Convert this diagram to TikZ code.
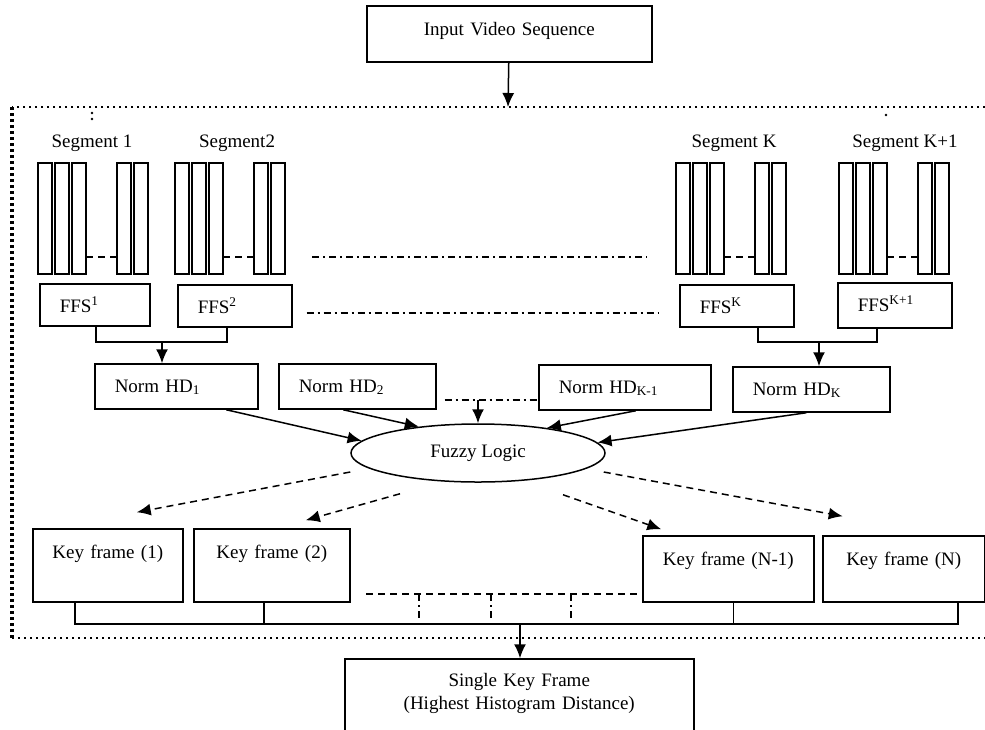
\documentclass[tikz,border=0pt]{standalone}
\usepackage{fontspec}
\setmainfont{Liberation Serif}
\usetikzlibrary{positioning,calc,arrows.meta,shapes.geometric}
\tikzset{lbox/.style={draw,line width=1.5pt,inner xsep=20pt,inner ysep=0pt,align=left,text height=28pt,anchor=base west},}
\tikzset{cbox/.style={draw,line width=1.5pt,inner sep=0pt,align=center,anchor=base west},}
\tikzset{arr/.style={-{Latex[length=14pt,width=12pt]},line width=1.5pt},}
\tikzset{darr/.style={arr,dash pattern=on 7pt off 5pt},}
\tikzset{dashdot/.style={line width=1.3pt,dash pattern=on 7pt off 4pt on 2pt off 4pt},}
\tikzset{dotline/.style={line width=2.5pt,dash pattern=on 2pt off 4pt},}
\tikzset{sqline/.style={line width=3.5pt,dash pattern=on 3pt off 3pt},}
\tikzset{bar/.style={line width=1.5pt},}

\begin{document}
\begin{tikzpicture}[x=1pt,y=-1pt,font=\fontsize{19}{23}\selectfont]
	\useasboundingbox (0,0) rectangle (985,729);
	\node[cbox, text width=285pt, text height=29pt, text depth=27pt] (input) at (366,35) {Input Video Sequence};
	\coordinate (top) at (508,107);
	\draw[arr] (input) -- (top);
	% dotted frame
	\draw[dotline] (985,107) -- (12,107);
	\draw[dotline] (12,638) -- (985,638);
	\draw[sqline] (12,107) -- (12,638);
	\fill (92,113) circle (1.4pt);
	\fill (92,119) circle (1.4pt);
	\fill (886,115) circle (1.4pt);

	\node[anchor=base] (seg1) at (92,147) {Segment 1};
	\node[anchor=base] (seg2) at (237,147) {Segment2};
	\node[anchor=base] (segk) at (734,147) {Segment K};
	\node[anchor=base] (segk1) at (905,147) {Segment K+1};
	% frames of each segment
	\foreach \s in {38,175,676,839}{
		\foreach \o in {0,17,34,79,96}
			\draw[bar] (\s+\o,163) rectangle ++(14,111);
		\draw[bar,dash pattern=on 7pt off 5pt] (\s+48,257) -- (\s+79,257);
	}
	\draw[dashdot] (312,257) -- (647,257);

	\node[lbox, text width=70pt, text depth=14pt] (ffs1) at (39,312) {FFS\textsuperscript{1}};
	\node[lbox, text width=74pt, text depth=14pt] (ffs2) at (177,313) {FFS\textsuperscript{2}};
	\node[lbox, text width=74pt, text depth=14pt] (ffsk) at (679,313) {FFS\textsuperscript{K}};
	\node[lbox, text width=74pt, text depth=17pt] (ffsk1) at (837,311) {FFS\textsuperscript{K+1}};
	\coordinate (m2) at (480,313);
	\draw[dashdot] ($(ffs2.east |- m2)+(14,0)$) -- ($(ffsk.west |- m2)+(-21,0)$);

	\node[lbox, text width=123pt, text depth=17pt] (hd1) at (94,392) {Norm HD\textsubscript{1}};
	\node[lbox, text width=117pt, text depth=17pt] (hd2) at (278,392) {Norm HD\textsubscript{2}};
	\node[lbox, text width=132pt, text depth=17pt] (hdk1) at (538,393) {Norm HD\textsubscript{K-1}};
	\node[lbox, text width=117pt, text depth=17pt] (hdk) at (732,395) {Norm HD\textsubscript{K}};

	\coordinate (j1) at (162,342);
	\coordinate (j2) at (819,342);
	\draw[line width=1.5pt] ([xshift=1pt]ffs1.south) |- (j1) -| ([xshift=-8pt]ffs2.south);
	\draw[line width=1.5pt] ([xshift=21pt]ffsk.south) |- (j2) -| ([xshift=-18pt]ffsk1.south);
	\draw[arr] (j1) -- (j1 |- hd1.north);
	\draw[arr] (j2) -- (j2 |- hdk.north);

	\node[ellipse, draw, line width=1.5pt, inner sep=0pt, minimum width=254pt, minimum height=58pt] (fuzzy) at (478,453) {Fuzzy Logic};
	\coordinate (m1) at (478,400);
	\draw[dashdot] ($(hd2.east |- m1)+(8,0)$) -- (hdk1.west |- m1);
	\draw[arr] (m1) -- (fuzzy.north);
	\draw[arr] ([xshift=50pt]hd1.south) -- (fuzzy.174);
	\draw[arr] ([xshift=-14pt]hd2.south) -- (fuzzy.156);
	\draw[arr] ([xshift=11pt]hdk1.south) -- (fuzzy.20);
	\draw[arr] ([xshift=-5pt]hdk.south) -- (fuzzy.5);

	\node[cbox, text width=150pt, text height=29pt, text depth=44pt] (kf1) at (32,558) {Key frame (1)};
	\node[cbox, text width=156pt, text height=29pt, text depth=44pt] (kf2) at (193,558) {Key frame (2)};
	\node[cbox, text width=171pt, text height=29pt, text depth=37pt] (kfn1) at (642,565) {Key frame (N-1)};
	\node[cbox, text width=162pt, text height=29pt, text depth=37pt] (kfn) at (822,565) {Key frame (N)};

	\draw[darr] ([yshift=-19pt]fuzzy.west) -- ([shift={(29pt,16pt)}]kf1.north);
	\draw[darr] ([shift={(-78pt,-11pt)}]fuzzy.south) -- ([shift={(34pt,8pt)}]kf2.north);
	\draw[darr] ([shift={(85pt,-12pt)}]fuzzy.south) -- ([shift={(-67pt,6pt)}]kfn1.north);
	\draw[darr] ([shift={(-2pt,-19pt)}]fuzzy.east) -- ([shift={(-61pt,19pt)}]kfn.north);

	\coordinate (bus) at (520,624);
	\coordinate (d0) at (366,594);
	\draw[line width=1.3pt,dash pattern=on 7pt off 5pt] (d0) -- (d0 -| kfn1.west);
	\foreach \x in {419,491,571}
		\draw[dashdot] (\x,594) -- (\x,621);
	\draw[line width=1.5pt] ([xshift=-33pt]kf1.south) |- (bus) -| ([xshift=54pt]kfn.south);
	\draw[line width=1.5pt] ([xshift=-8pt]kf2.south) -- ([xshift=-8pt]kf2.south |- bus);
	\draw[line width=1.5pt] ([xshift=5pt]kfn1.south) -- ([xshift=5pt]kfn1.south |- bus);

	\node[cbox, text width=349pt, text height=27pt, text depth=100pt] (single) at (344,686) {\begin{tabular}[t]{@{}c@{}}Single Key Frame\\(Highest Histogram Distance)\end{tabular}};
	\draw[arr] (bus) -- (bus |- single.north);
\end{tikzpicture}
\end{document}
